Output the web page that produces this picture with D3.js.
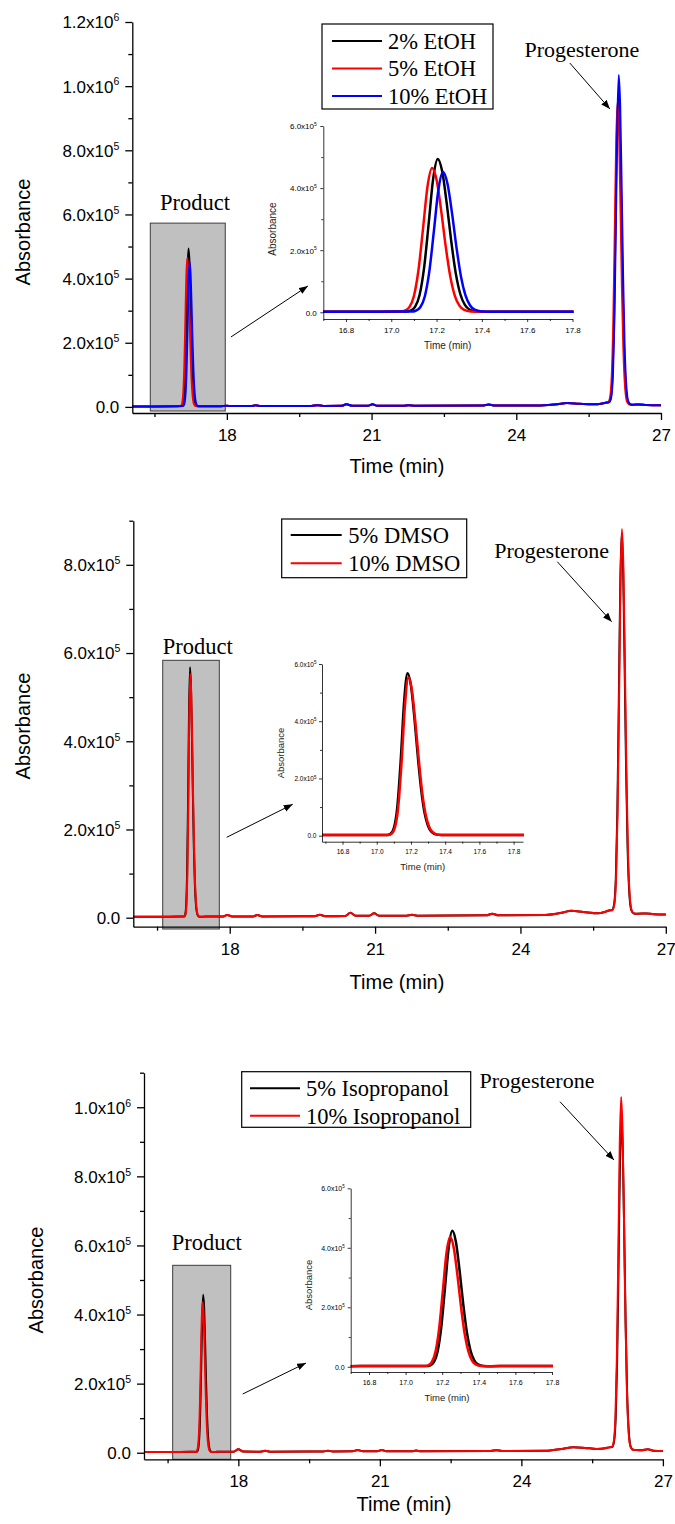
<!DOCTYPE html>
<html><head><meta charset="utf-8">
<script src="https://cdn.jsdelivr.net/npm/d3@7"></script>
<style>body{margin:0;background:#fff}</style>
</head><body>
<svg id="c" width="675" height="1524"></svg>
<script>
// ---------------- DATA ----------------
const xTicksMain = [18, 21, 24, 27];
const xMinorMain = [16.5, 19.5, 22.5, 25.5];
const yTicksP1 = [0, 2e5, 4e5, 6e5, 8e5, 1e6, 1.2e6];
const yMinorP1 = [1e5, 3e5, 5e5, 7e5, 9e5, 1.1e6];
const yTicksP2 = [0, 2e5, 4e5, 6e5, 8e5];
const yMinorP2 = [1e5, 3e5, 5e5, 7e5, 9e5];
const yTicksP3 = [0, 2e5, 4e5, 6e5, 8e5, 1e6];
const yMinorP3 = [1e5, 3e5, 5e5, 7e5, 9e5, 1.1e6];
const insetXTicks = [16.8, 17.0, 17.2, 17.4, 17.6, 17.8];
const insetXMinor = [16.7, 16.9, 17.1, 17.3, 17.5, 17.7];
const insetYTicks = [0, 2e5, 4e5, 6e5];
const insetYMinor = [1e5, 3e5, 5e5];

const legendP1 = ["2% EtOH", "5% EtOH", "10% EtOH"];
const legendP2 = ["5% DMSO", "10% DMSO"];
const legendP3 = ["5% Isopropanol", "10% Isopropanol"];
const colorsP1 = ["#000000", "#ff0000", "#0000ff"];
const colorsP2 = ["#000000", "#ff0000"];

// baselines [time, absorbance]
const baseP1 = [[16.0,1500],[16.5,1500],[16.95,2000],[17.5,2000],[17.85,2000],[18.0,3500],[18.1,2500],[18.5,2500],[18.6,5000],[18.7,2500],[19.75,3000],[19.88,5500],[20.0,3000],[20.38,3500],[20.48,8500],[20.6,3500],[20.92,3500],[21.02,8000],[21.12,3500],[21.65,3500],[21.77,5500],[21.9,3500],[23.3,4000],[23.43,7500],[23.55,4000],[24.5,4500],[24.85,8000],[25.05,12000],[25.3,10000],[25.6,8000],[25.76,10000],[25.85,13000],[26.42,7000],[26.55,7500],[26.7,6000],[27.0,5000]];
const baseP2 = [[16.0,2000],[16.5,2000],[17.0,2500],[17.5,2500],[17.85,2500],[17.95,6000],[18.05,3000],[18.48,3000],[18.57,6000],[18.67,3000],[19.75,3500],[19.86,6500],[19.97,3500],[20.38,4000],[20.49,11000],[20.6,4500],[20.88,4500],[20.98,10000],[21.08,4500],[21.65,4500],[21.76,6500],[21.87,4500],[23.3,5500],[23.42,9000],[23.54,5500],[24.5,6000],[24.85,11000],[25.05,16000],[25.3,13000],[25.6,10000],[25.74,13000],[25.83,16500],[26.42,9000],[26.6,9500],[26.75,8000],[27.0,7500]];
const baseP3 = [[16.0,2000],[16.5,2000],[17.0,2500],[17.55,2500],[17.9,3000],[18.0,10000],[18.1,3500],[18.47,3000],[18.57,5500],[18.67,3000],[19.8,3500],[19.9,6000],[20.0,3500],[20.42,4000],[20.53,8000],[20.64,4000],[20.94,4000],[21.04,8000],[21.14,4000],[21.67,4000],[21.77,6500],[21.87,4000],[23.35,5000],[23.47,7500],[23.59,5000],[24.5,5500],[24.85,11000],[25.1,16000],[25.35,14000],[25.6,11000],[25.78,13000],[25.86,15500],[26.42,8000],[26.55,7000],[26.68,10000],[26.8,6000],[27.0,5000]];

// product peaks
const prodP1_black = [[17.065,2560],[17.085,5350],[17.105,17450],[17.125,55600],[17.145,143700],[17.165,284900],[17.185,430500],[17.205,494000],[17.225,453200],[17.245,349800],[17.265,227300],[17.285,124500],[17.305,58100],[17.325,23600],[17.345,9000],[17.375,2930],[17.425,2000]];
const prodP1_red = [[17.04,2500],[17.06,5150],[17.08,16500],[17.10,52500],[17.12,135300],[17.14,268200],[17.16,405300],[17.18,465000],[17.20,426600],[17.22,329300],[17.24,214100],[17.26,117300],[17.28,54800],[17.30,22300],[17.32,8600],[17.35,2900],[17.40,2000]];
const prodP1_blue = [[17.088,2510],[17.108,5060],[17.128,16130],[17.148,51050],[17.168,131600],[17.188,260750],[17.208,393950],[17.228,452000],[17.248,414650],[17.268,320150],[17.288,208100],[17.308,114050],[17.328,53300],[17.348,21755],[17.368,8390],[17.398,2855],[17.448,2000]];
const prodP2_black = [[17.06,2500],[17.08,6300],[17.10,26850],[17.12,99350],[17.14,261200],[17.16,467800],[17.18,568000],[17.20,524400],[17.22,412900],[17.24,277600],[17.26,159350],[17.28,78400],[17.30,33700],[17.32,13200],[17.35,3750],[17.40,2000]];
const prodP2_red = [[17.065,2500],[17.085,6190],[17.105,26190],[17.125,96770],[17.145,254360],[17.165,455470],[17.185,553000],[17.205,510570],[17.225,402030],[17.245,270340],[17.265,155180],[17.285,76385],[17.305,32860],[17.325,12910],[17.355,3710],[17.405,2000]];
const prodP3_black = [[17.115,2510],[17.135,5090],[17.155,16290],[17.175,51600],[17.195,133040],[17.215,263630],[17.235,398300],[17.255,457000],[17.275,419240],[17.295,323690],[17.315,210390],[17.335,115300],[17.355,53870],[17.375,21975],[17.395,8460],[17.425,2865],[17.475,2000]];
const prodP3_red = [[17.103,2490],[17.123,4950],[17.143,15630],[17.163,49310],[17.183,126990],[17.203,251550],[17.223,380010],[17.243,436000],[17.263,399980],[17.283,308840],[17.303,200770],[17.323,110070],[17.343,51480],[17.363,21050],[17.383,8160],[17.413,2825],[17.463,2000]];

// progesterone peaks
const progP1_black = [[25.915,14250],[25.955,26950],[25.995,102080],[26.025,265040],[26.055,544020],[26.085,842240],[26.115,975000],[26.145,877230],[26.175,639100],[26.205,377740],[26.235,183180],[26.275,53750],[26.315,15520],[26.365,7580]];
const progP1_red = [[25.90,14220],[25.94,26590],[25.98,99770],[26.01,258490],[26.04,530220],[26.07,820690],[26.10,950000],[26.13,854760],[26.16,622780],[26.19,368170],[26.22,178630],[26.26,52550],[26.30,15300],[26.35,7570]];
const progP1_blue = [[25.925,14330],[25.965,27820],[26.005,107640],[26.035,280760],[26.065,577140],[26.095,893960],[26.125,1035000],[26.155,931170],[26.185,678280],[26.215,400720],[26.245,194100],[26.285,56650],[26.325,16050],[26.375,7620]];
const progP2_black = [[25.89,17110],[25.93,28410],[25.97,95270],[26.00,240270],[26.03,488510],[26.06,753870],[26.09,872000],[26.12,784840],[26.15,572540],[26.18,339530],[26.21,166070],[26.25,50680],[26.29,16590],[26.34,9520]];
const progP2_red = [[25.895,17120],[25.935,28540],[25.975,96100],[26.005,242630],[26.035,493480],[26.065,761630],[26.095,881000],[26.125,792930],[26.155,578420],[26.185,342980],[26.215,167700],[26.255,51120],[26.295,16670],[26.345,9520]];
const progP3_black = [[25.92,16240],[25.96,28850],[26.00,103430],[26.03,265210],[26.06,542160],[26.09,838210],[26.12,970000],[26.15,872840],[26.18,636190],[26.21,376450],[26.24,183080],[26.28,54460],[26.32,16470],[26.37,8580]];
const progP3_red = [[25.915,16320],[25.955,29720],[25.995,108990],[26.025,280930],[26.055,575280],[26.085,889930],[26.115,1030000],[26.145,926780],[26.175,675370],[26.205,399430],[26.235,194000],[26.275,57360],[26.315,16990],[26.365,8610]];

// ---------------- LAYOUT ----------------
const SANS = "'Liberation Sans', Arial, sans-serif";
const SERIF = "'Liberation Serif', 'Times New Roman', serif";
const svg = d3.select("#c");
const defs = svg.append("defs");
defs.append("marker").attr("id","ah").attr("markerUnits","userSpaceOnUse")
  .attr("markerWidth",10).attr("markerHeight",8).attr("refX",9).attr("refY",3.5).attr("orient","auto")
  .append("path").attr("d","M0,0 L9,3.5 L0,7 Z").attr("fill","#000");

function merge(base, peaks){ return base.concat(...peaks).sort((a,b)=>a[0]-b[0]); }

const panels = [
  { id:"p1", xDomain:[16.04,27], xRange:[132.3,661], yDomain:[-1.9e4,1.2e6], yRange:[413,22],
    yTicks:yTicksP1, yMinor:yMinorP1,
    series: legendP1.map((n,i)=>({name:n,color:colorsP1[i],data:merge(baseP1,[[prodP1_black,progP1_black],[prodP1_red,progP1_red],[prodP1_blue,progP1_blue]][i])})),
    box:[16.413,17.967,-1.28e4,5.73e5], product:[17.339,6.388e5],
    boxArrow:[[18.085,2.18e5],[19.681,3.77e5]], prog:[25.359,1.1158e6], progArrow:[[25.11,1.072e6],[25.94,9.29e5]],
    legend:{x0:322,x1:493,y0:24,y1:109,lx0:332,lx1:382,tx:388,rows:[41,68.5,96]},
    ylab:[23,232], xlab:[397,466], tickLabY:22,
    inset:{xDomain:[16.7,17.8], xRange:[323.3,572.5], yDomain:[-2.16e4,6e5], yRange:[319,126], tickFont:8, titleFont:10, supFont:5, xlab:[447.7,345.7], ylab:[272,229], xlabOff:11, ylabOff:6.5}
  },
  { id:"p2", xDomain:[16.01,27], xRange:[133.3,665.8], yDomain:[-2.04e4,9e5], yRange:[926.7,520.7],
    yTicks:yTicksP2, yMinor:yMinorP2,
    series: legendP2.map((n,i)=>({name:n,color:colorsP2[i],data:merge(baseP2,[[prodP2_black,progP2_black],[prodP2_red,progP2_red]][i])})),
    box:[16.617,17.785,-2.56e4,5.835e5], product:[17.339,6.166e5],
    boxArrow:[[17.938,1.823e5],[19.30,2.571e5]], prog:[24.645,8.336e5], progArrow:[[24.761,8.07e5],[25.883,6.71e5]],
    legend:{x0:281.7,x1:466.7,y0:519,y1:577.7,lx0:290.7,lx1:341.7,tx:348.3,rows:[535,563.3]},
    ylab:[23,726], xlab:[397,982], tickLabY:22,
    inset:{xDomain:[16.68,17.855], xRange:[322,523], yDomain:[-2.1e4,6e5], yRange:[841.7,664], tickFont:6.5, titleFont:9.5, supFont:4.5, xlab:[422.7,866.7], ylab:[280.7,753], xlabOff:10, ylabOff:5.5}
  },
  { id:"p3", xDomain:[16.0,27], xRange:[144,662.9], yDomain:[-1.9e4,1.1e6], yRange:[1459.3,1072.7],
    yTicks:yTicksP3, yMinor:yMinorP3,
    series: legendP3.map((n,i)=>({name:n,color:colorsP2[i],data:merge(baseP3,[[prodP3_black,progP3_black],[prodP3_red,progP3_red]][i])})),
    box:[16.608,17.838,-1.9e4,5.425e5], product:[17.329,6.091e5],
    boxArrow:[[18.092,1.70e5],[19.434,2.597e5]], prog:[24.331,1.0789e6], progArrow:[[24.819,1.016e6],[25.963,8.473e5]],
    legend:{x0:241.7,x1:470.7,y0:1071.7,y1:1127.3,lx0:250,lx1:300,tx:306,rows:[1088.3,1115.7]},
    ylab:[36,1280], xlab:[404,1504], tickLabY:22,
    inset:{xDomain:[16.7,17.8], xRange:[350.7,552], yDomain:[-1.75e4,6e5], yRange:[1372,1188.3], tickFont:7, titleFont:9.5, supFont:4.5, xlab:[447,1398], ylab:[308.3,1285], xlabOff:10.5, ylabOff:6}
  }
];

function yLabelParts(v){
  if (v === 0) return ["0.0", null];
  const e = Math.floor(Math.log10(v) + 1e-9);
  return [(v/Math.pow(10,e)).toFixed(1) + "x10", String(e)];
}

function addYLabels(gAxis, fontSize, supSize, pad){
  gAxis.selectAll(".tick").each(function(d){
    const [b, e] = yLabelParts(d);
    const t = d3.select(this).append("text").attr("x", -pad).attr("y", 0).attr("dy","0.35em")
      .attr("text-anchor","end").attr("fill","#000").attr("font-family",SANS).attr("font-size",fontSize);
    t.append("tspan").text(b);
    if (e) t.append("tspan").attr("font-size",supSize).attr("dy", -fontSize*0.42).text(e);
  });
}

function styleAxis(g, w){
  g.selectAll("path.domain").attr("stroke","#000").attr("stroke-width",w);
  g.selectAll(".tick line").attr("stroke","#000").attr("stroke-width",w);
  g.selectAll(".tick text").filter(function(){return d3.select(this).text()==="";}).remove();
}

panels.forEach(cfg => {
  const g = svg.append("g");
  const x = d3.scaleLinear().domain(cfg.xDomain).range(cfg.xRange);
  const y = d3.scaleLinear().domain(cfg.yDomain).range(cfg.yRange);
  const line = d3.line().x(d=>x(d[0])).y(d=>y(d[1])).curve(d3.curveMonotoneX);

  // gray highlight box
  g.append("rect").attr("x",x(cfg.box[0])).attr("y",y(cfg.box[3]))
    .attr("width",x(cfg.box[1])-x(cfg.box[0])).attr("height",y(cfg.box[2])-y(cfg.box[3]))
    .attr("fill","#c0c0c0").attr("stroke","#3c3c3c").attr("stroke-width",1);

  // clip
  defs.append("clipPath").attr("id","clip-"+cfg.id).append("rect")
    .attr("x",cfg.xRange[0]).attr("y",cfg.yRange[1]-4).attr("width",cfg.xRange[1]-cfg.xRange[0]+2)
    .attr("height",cfg.yRange[0]-cfg.yRange[1]+4);

  // curves
  cfg.series.forEach(s => {
    g.append("path").attr("d",line(s.data)).attr("fill","none").attr("stroke",s.color)
      .attr("stroke-width",2).attr("stroke-linejoin","round").attr("clip-path",`url(#clip-${cfg.id})`);
  });

  // axes
  const x0 = cfg.xRange[0], yb = cfg.yRange[0];
  const gx = g.append("g").attr("transform",`translate(0,${yb})`)
    .call(d3.axisBottom(x).tickValues(xTicksMain).tickSize(7).tickSizeOuter(0).tickFormat(d3.format("d")));
  gx.selectAll(".tick text").attr("y",cfg.tickLabY).attr("dy","0.35em").attr("fill","#000")
    .attr("font-family",SANS).attr("font-size",17);
  const gxm = g.append("g").attr("transform",`translate(0,${yb})`)
    .call(d3.axisBottom(x).tickValues(xMinorMain).tickSize(4).tickFormat(""));
  gxm.select(".domain").remove();
  const gy = g.append("g").attr("transform",`translate(${x0},0)`)
    .call(d3.axisLeft(y).tickValues(cfg.yTicks).tickSize(7).tickSizeOuter(0).tickFormat(""));
  const gym = g.append("g").attr("transform",`translate(${x0},0)`)
    .call(d3.axisLeft(y).tickValues(cfg.yMinor).tickSize(4).tickFormat(""));
  gym.select(".domain").remove();
  [gx,gxm,gy,gym].forEach(a=>styleAxis(a,1.3));
  addYLabels(gy, 17, 10.5, 13);

  g.append("text").attr("transform",`translate(${cfg.ylab[0]},${cfg.ylab[1]}) rotate(-90)`)
    .attr("text-anchor","middle").attr("dy","0.35em").attr("font-family",SANS).attr("font-size",20).text("Absorbance");
  g.append("text").attr("x",cfg.xlab[0]).attr("y",cfg.xlab[1]).attr("text-anchor","middle").attr("dy","0.35em")
    .attr("font-family",SANS).attr("font-size",20).text("Time (min)");

  // annotations
  g.append("text").attr("x",x(cfg.product[0])).attr("y",y(cfg.product[1])).attr("dy","0.35em")
    .attr("text-anchor","middle").attr("font-family",SERIF).attr("font-size",22.5).text("Product");
  g.append("text").attr("x",x(cfg.prog[0])).attr("y",y(cfg.prog[1])).attr("dy","0.35em")
    .attr("text-anchor","middle").attr("font-family",SERIF).attr("font-size",22).text("Progesterone");
  [cfg.boxArrow, cfg.progArrow].forEach(a => {
    g.append("line").attr("x1",x(a[0][0])).attr("y1",y(a[0][1])).attr("x2",x(a[1][0])).attr("y2",y(a[1][1]))
      .attr("stroke","#000").attr("stroke-width",1).attr("marker-end","url(#ah)");
  });

  // legend
  const L = cfg.legend;
  g.append("rect").attr("x",L.x0).attr("y",L.y0).attr("width",L.x1-L.x0).attr("height",L.y1-L.y0)
    .attr("fill","#fff").attr("stroke","#000").attr("stroke-width",1.2);
  cfg.series.forEach((s,i) => {
    g.append("line").attr("x1",L.lx0).attr("x2",L.lx1).attr("y1",L.rows[i]).attr("y2",L.rows[i])
      .attr("stroke",s.color).attr("stroke-width",2);
    g.append("text").attr("x",L.tx).attr("y",L.rows[i]).attr("dy","0.35em").attr("font-family",SERIF)
      .attr("font-size",22.5).text(s.name);
  });

  // inset
  const I = cfg.inset;
  const xi = d3.scaleLinear().domain(I.xDomain).range(I.xRange);
  const yi = d3.scaleLinear().domain(I.yDomain).range(I.yRange);
  const li = d3.line().x(d=>xi(d[0])).y(d=>yi(d[1])).curve(d3.curveMonotoneX);
  const gi = g.append("g");
  defs.append("clipPath").attr("id","clipi-"+cfg.id).append("rect")
    .attr("x",I.xRange[0]).attr("y",I.yRange[1]).attr("width",I.xRange[1]-I.xRange[0]+1)
    .attr("height",I.yRange[0]-I.yRange[1]);
  cfg.series.forEach(s => {
    gi.append("path").attr("d",li(s.data)).attr("fill","none").attr("stroke",s.color)
      .attr("stroke-width",2.5).attr("clip-path",`url(#clipi-${cfg.id})`);
  });
  const gix = gi.append("g").attr("transform",`translate(0,${I.yRange[0]})`)
    .call(d3.axisBottom(xi).tickValues(insetXTicks).tickSize(3).tickSizeOuter(0).tickFormat(d3.format(".1f")));
  gix.selectAll(".tick text").attr("y",I.xlabOff).attr("dy","0.35em").attr("fill","#000")
    .attr("font-family",SANS).attr("font-size",I.tickFont);
  const gixm = gi.append("g").attr("transform",`translate(0,${I.yRange[0]})`)
    .call(d3.axisBottom(xi).tickValues(insetXMinor).tickSize(2).tickFormat(""));
  gixm.select(".domain").remove();
  const giy = gi.append("g").attr("transform",`translate(${I.xRange[0]},0)`)
    .call(d3.axisLeft(yi).tickValues(insetYTicks).tickSize(3).tickSizeOuter(0).tickFormat(""));
  const giym = gi.append("g").attr("transform",`translate(${I.xRange[0]},0)`)
    .call(d3.axisLeft(yi).tickValues(insetYMinor).tickSize(2).tickFormat(""));
  giym.select(".domain").remove();
  [gix,gixm,giy,giym].forEach(a=>styleAxis(a,0.8));
  addYLabels(giy, I.tickFont, I.supFont, I.ylabOff);
  gi.append("text").attr("x",I.xlab[0]).attr("y",I.xlab[1]).attr("dy","0.35em").attr("text-anchor","middle")
    .attr("font-family",SANS).attr("font-size",I.titleFont).attr("fill","#222").text("Time (min)");
  gi.append("text").attr("transform",`translate(${I.ylab[0]},${I.ylab[1]}) rotate(-90)`).attr("dy","0.35em")
    .attr("text-anchor","middle").attr("font-family",SANS).attr("font-size",I.titleFont).attr("fill","#222").text("Absorbance");
});
</script></body></html>
